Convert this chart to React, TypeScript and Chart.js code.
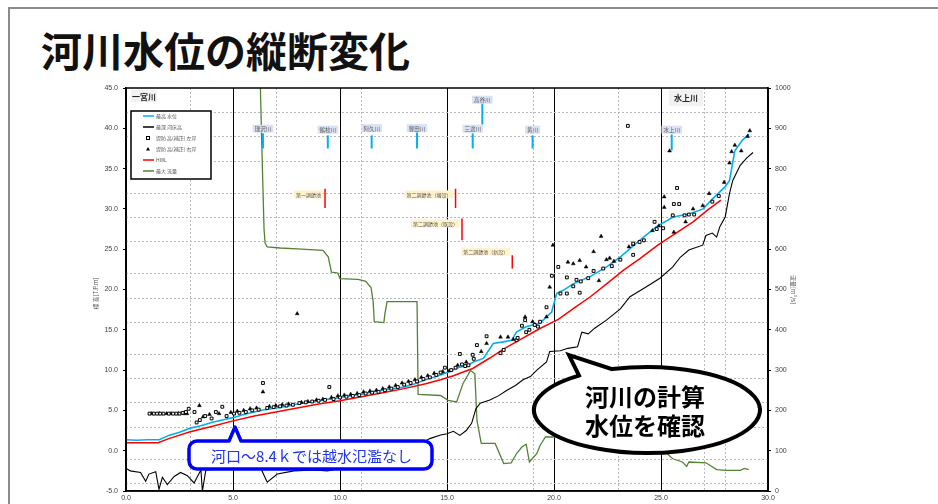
import React, { useEffect, useRef } from 'react';
import { Chart, registerables } from 'chart.js';
Chart.register(...registerables);

// ---------------- data ----------------
const xTicks = [0, 5, 10, 15, 20, 25, 30];
const leftTicks = [-5, 0, 5, 10, 15, 20, 25, 30, 35, 40, 45];
const rightTicks = [0, 100, 200, 300, 400, 500, 600, 700, 800, 900, 1000];
const dottedX = [3, 7, 11, 19, 23, 27, 28];
const dottedY = [42, 39, 36, 32, 29, 26, 22, 19, 16, 12, 9, 6, 3, -1, -4];

const maxWaterLevel: number[][] = [
  [0, 1.35], [0.5, 1.3], [1.0, 1.35], [1.55, 1.35], [2.0, 1.9], [2.5, 2.3], [3.0, 2.8], [3.5, 3.1], [4.0, 3.5],
  [4.5, 3.8], [5.0, 4.1], [5.5, 4.5], [6.0, 4.8], [6.5, 5.1], [7.0, 5.3], [7.5, 5.5], [8.0, 5.8], [8.5, 6.0],
  [9.0, 6.2], [9.5, 6.4], [10.0, 6.6], [10.5, 6.8], [11.0, 7.0], [11.5, 7.3], [12.0, 7.5], [12.5, 7.7],
  [13.0, 7.9], [13.5, 8.3], [14.0, 8.8], [14.5, 9.2], [15.0, 9.7], [15.5, 10.3], [16.0, 10.6], [16.23, 11.0],
  [16.7, 11.45], [17.16, 13.3], [17.63, 13.5], [18.02, 13.7], [18.25, 14.75], [18.72, 15.4], [19.34, 15.8],
  [19.65, 16.6], [19.89, 17.2], [20.12, 19.5], [20.43, 19.9], [20.9, 20.7], [21.68, 21.6], [22.46, 22.8],
  [23.08, 24.0], [24.0, 26.1], [24.79, 27.8], [25.57, 29.0], [26.34, 29.4], [26.97, 30.0], [27.43, 31.3],
  [27.98, 32.7], [28.2, 33.5], [28.45, 37.2], [28.8, 38.5], [29.1, 39.3],
];

const deepestBed: number[][] = [
  [0, -2.2], [0.2, -2.5], [0.68, -2.7], [0.92, -3.8], [1.07, -2.9], [1.39, -2.6], [1.54, -4.8], [1.7, -3.3],
  [1.93, -4.2], [2.25, -3.2], [2.55, -2.7], [2.87, -3.1], [3.18, -4.0], [3.5, -2.4], [3.57, -5.0], [3.73, -2.4],
  [4.43, -2.3], [5.05, -2.1], [5.67, -2.3], [6.3, -2.2], [6.6, -3.9], [7.07, -2.9], [7.85, -2.5], [8.78, -2.4],
  [9.41, -2.5], [10.0, -2.2], [10.95, -2.1], [11.57, -2.3], [12.2, -2.0], [13.0, -1.8], [13.6, -1.9],
  [13.9, 1.1], [14.2, 1.5], [14.7, 1.95], [15.0, 2.1], [15.3, 2.4], [15.6, 1.9], [15.9, 2.5], [16.15, 3.4],
  [16.35, 5.2], [16.55, 5.9], [17.0, 6.3], [17.4, 6.8], [17.8, 7.5], [18.2, 8.1], [18.55, 8.8], [18.9, 9.2],
  [19.2, 10.0], [19.65, 11.0], [19.8, 12.3], [20.3, 12.4], [20.65, 12.7], [21.1, 12.9], [21.3, 14.7],
  [21.6, 14.5], [21.9, 15.2], [22.45, 16.2], [23.1, 17.6], [23.55, 19.1], [23.8, 19.5], [24.3, 20.3],
  [24.95, 21.4], [25.55, 22.8], [25.9, 24.0], [26.3, 24.9], [26.95, 25.5], [27.1, 26.7], [27.4, 27.0],
  [27.6, 26.5], [27.75, 27.8], [28.0, 29.0], [28.2, 31.9], [28.35, 33.5], [28.7, 35.4], [29.0, 36.3], [29.3, 37.0],
];

const leftBank: number[][] = [
  [1.1, 4.6], [1.3, 4.6], [1.45, 4.6], [1.6, 4.6], [1.75, 4.6], [2.0, 4.6], [2.2, 4.6], [2.35, 4.6], [2.5, 4.6],
  [2.65, 4.7], [2.8, 4.8], [2.93, 5.2], [3.2, 4.8], [3.3, 3.5], [3.45, 3.8], [3.7, 4.3], [4.0, 4.0], [4.2, 4.8],
  [4.5, 5.45], [4.7, 4.3], [5.05, 4.6], [5.3, 4.7], [5.6, 4.8], [5.9, 5.0], [6.2, 5.1], [6.4, 8.4], [6.6, 5.3],
  [6.9, 5.4], [7.2, 5.5], [7.5, 5.6], [7.8, 5.7], [8.1, 5.9], [8.4, 6.0], [8.7, 6.1], [9.0, 6.2], [9.3, 6.3],
  [9.5, 7.9], [9.7, 6.4], [10.0, 6.6], [10.3, 6.7], [10.6, 6.8], [10.9, 6.9], [11.2, 7.1], [11.5, 7.2],
  [11.8, 7.3], [12.1, 7.5], [12.4, 7.7], [12.7, 7.9], [13.0, 8.2], [13.3, 8.4], [13.6, 8.6], [13.9, 8.9],
  [14.2, 9.1], [14.5, 9.4], [14.7, 9.7], [14.9, 10.3], [15.2, 10.0], [15.4, 10.3], [15.6, 12.0], [15.7, 10.7],
  [15.85, 10.5], [16.0, 10.6], [16.2, 11.9], [16.25, 11.4], [16.4, 13.1], [16.85, 14.2], [17.5, 12.1],
  [17.65, 12.5], [18.25, 13.7], [18.3, 14.0], [18.5, 15.5], [18.65, 16.2], [18.7, 14.7], [18.85, 15.0],
  [19.1, 15.6], [19.25, 15.4], [19.35, 16.0], [19.65, 17.8], [19.9, 21.7], [20.2, 22.8], [20.3, 19.5],
  [20.6, 21.5], [20.6, 19.5], [20.9, 20.4], [21.05, 21.2], [21.25, 21.0], [21.2, 19.6], [21.6, 21.4],
  [21.85, 22.3], [22.3, 22.6], [22.7, 22.9], [23.1, 23.7], [23.7, 24.3], [23.7, 25.7], [24.0, 25.9],
  [24.2, 26.1], [24.7, 28.4], [24.8, 27.5], [25.1, 27.6], [25.55, 29.2], [25.6, 30.6], [25.85, 30.6],
  [26.1, 29.2], [26.3, 29.3], [26.55, 29.3], [25.75, 32.6], [27.4, 30.9], [27.7, 31.6], [23.45, 40.3],
];

const rightBank: number[][] = [
  [1.2, 4.6], [1.55, 4.6], [1.9, 4.6], [2.1, 4.6], [2.45, 4.6], [2.7, 4.6], [2.85, 4.6], [3.43, 5.6], [3.6, 4.2],
  [3.9, 4.5], [4.35, 4.6], [4.9, 4.75], [5.2, 4.9], [5.5, 5.0], [5.8, 5.2], [6.1, 5.3], [6.4, 7.3], [6.7, 5.5],
  [7.0, 5.6], [7.3, 5.7], [7.6, 5.8], [8.0, 17.0], [8.2, 6.0], [8.5, 6.1], [8.9, 6.3], [9.2, 6.4], [9.6, 6.6],
  [9.9, 6.8], [10.2, 6.9], [10.5, 7.0], [10.8, 7.1], [11.1, 7.3], [11.4, 7.4], [11.7, 7.5], [12.0, 7.7],
  [12.3, 7.9], [12.6, 8.1], [12.9, 8.4], [13.2, 8.6], [13.5, 8.8], [13.8, 9.1], [14.1, 9.3], [14.4, 9.6],
  [14.8, 9.8], [15.1, 9.9], [15.5, 10.6], [15.9, 11.0], [16.6, 12.3], [16.85, 13.3], [17.5, 14.1], [17.85, 14.1],
  [18.1, 13.8], [18.65, 16.6], [19.0, 16.0], [19.65, 16.6], [19.8, 20.3], [19.95, 25.5], [20.65, 23.4],
  [20.9, 23.2], [21.2, 23.6], [21.5, 22.8], [21.85, 24.7], [22.1, 21.1], [22.2, 26.6], [22.45, 23.7],
  [22.6, 23.9], [22.8, 23.5], [23.5, 25.3], [23.7, 25.6], [24.6, 27.3], [24.9, 27.9], [25.15, 31.5],
  [25.15, 30.2], [25.4, 37.2], [25.6, 27.1], [26.15, 28.4], [26.5, 30.0], [26.95, 30.4], [27.25, 31.9],
  [27.95, 33.3], [28.2, 35.7], [28.3, 37.1], [28.45, 37.9], [28.75, 37.2], [29.05, 39.0], [29.15, 39.7],
];

const hwl: number[][] = [
  [0, 1.0], [1.5, 1.0], [2.0, 1.5], [3.0, 2.35], [4.0, 3.0], [5.0, 3.7], [6.0, 4.3], [7.0, 4.8], [8.0, 5.3],
  [9.0, 5.8], [10.0, 6.2], [11.0, 6.7], [12.0, 7.2], [13.0, 7.7], [14.0, 8.3], [14.7, 8.8], [15.3, 9.3],
  [15.7, 9.7], [16.2, 10.2], [17.0, 11.5], [17.7, 12.7], [18.5, 13.9], [19.3, 15.1], [20.2, 16.3], [21.0, 17.8],
  [21.7, 19.1], [22.5, 20.8], [23.25, 22.4], [24.0, 23.8], [24.85, 25.5], [25.7, 27.0], [26.5, 28.4],
  [27.2, 29.9], [27.8, 31.1],
];

const maxFlow: number[][] = [
  [6.28, 1000], [6.35, 850], [6.45, 650], [6.5, 615], [6.6, 606], [7.2, 603], [8.0, 601], [9.2, 597],
  [9.45, 581], [9.6, 543], [9.9, 541], [10.0, 527], [10.85, 525], [11.2, 520], [11.45, 505], [11.55, 470],
  [11.6, 420], [12.05, 418], [12.1, 440], [12.2, 470], [13.6, 470], [13.65, 240], [14.7, 237], [15.05, 225],
  [15.45, 221], [15.75, 267], [16.1, 299], [16.3, 291], [16.4, 175], [16.6, 118], [17.25, 118], [17.65, 68],
  [18.0, 70], [18.25, 93], [18.5, 109], [18.7, 116], [18.85, 72], [19.2, 93], [19.35, 113], [19.6, 134],
  [20.1, 134], [21.0, 132], [22.0, 128], [23.0, 120], [24.0, 110], [25.1, 101], [25.55, 80], [26.0, 72],
  [26.2, 61], [26.3, 72], [27.1, 70], [27.6, 53], [28.05, 51], [28.7, 51], [28.9, 56], [29.1, 53],
];

// tributary annotations (data coords)
const tribNames = ['瑞沢川', '鶴枝川', '阿久川', '豊田川', '三途川', '高谷川', '黄川', '水上川'];
const tribX = [6.4, 9.43, 11.48, 13.6, 16.2, 16.65, 19.0, 25.5];
const tribTop = [39.37, 39.12, 39.12, 39.5, 39.37, 43.09, 39.12, 39.24];
const tribBottom = [37.5, 37.5, 37.5, 37.5, 37.5, 40.48, 37.5, 37.26];
const tribLabelY = [39.95, 39.83, 40.02, 40.02, 39.95, 43.54, 39.83, 39.83];

// regulating pond annotations
const pondNames = ['第一調節池', '第二調節池（増設）', '第二調節池（既設）', '第二調節池（新設）'];
const pondX = [9.3, 15.4, 15.7, 18.05];
const pondTop = [32.5, 32.5, 28.8, 24.25];
const pondBottom = [30.1, 30.1, 26.1, 22.6];
const pondLabelY = [31.8, 31.8, 28.2, 24.7];

const seriesNames = ['最高 水位', '最深 河床高', '堤防 高(補正) 左岸', '堤防 高(補正) 右岸', 'HWL', '最大 流量'];
const sectionNames = ['一宮川', '水上川'];

const toXY = (a: number[][]) => a.map(([x, y]) => ({ x, y }));

const JP = "'Noto Sans CJK JP', 'Noto Sans', sans-serif";
const LAT = "'Liberation Sans', 'DejaVu Sans', sans-serif";

function line(ctx: CanvasRenderingContext2D, x1: number, y1: number, x2: number, y2: number) {
  ctx.beginPath();
  ctx.moveTo(x1, y1);
  ctx.lineTo(x2, y2);
  ctx.stroke();
}

const annotPlugin = {
  id: 'annot',
  beforeDatasetsDraw(chart: any) {
    const { ctx, chartArea: a, scales } = chart;
    const sx = scales.x, sy = scales.y;
    ctx.save();
    ctx.strokeStyle = '#b8b8b8';
    ctx.lineWidth = 1;
    ctx.setLineDash([2, 2]);
    for (const v of dottedX) {
      const px = Math.round(sx.getPixelForValue(v)) + 0.5;
      line(ctx, px, a.top, px, a.bottom);
    }
    for (const v of dottedY) {
      const py = Math.round(sy.getPixelForValue(v)) + 0.5;
      line(ctx, a.left, py, a.right, py);
    }
    ctx.restore();
  },
  afterDatasetsDraw(chart: any) {
    const { ctx, chartArea: a, scales } = chart;
    const sx = scales.x, sy = scales.y;
    ctx.save();
    // frame
    ctx.strokeStyle = '#000';
    ctx.lineWidth = 1.5;
    ctx.strokeRect(a.left, a.top, a.right - a.left, a.bottom - a.top);

    // tributaries
    ctx.textAlign = 'center';
    ctx.textBaseline = 'middle';
    ctx.font = `5.5px ${JP}`;
    tribNames.forEach((name, i) => {
      const px = sx.getPixelForValue(tribX[i]);
      ctx.strokeStyle = '#00b0f0';
      ctx.lineWidth = 2;
      line(ctx, px, sy.getPixelForValue(tribTop[i]), px, sy.getPixelForValue(tribBottom[i]));
      const ly = sy.getPixelForValue(tribLabelY[i]);
      const tw = ctx.measureText(name).width + 4;
      ctx.fillStyle = '#d9e1f2';
      ctx.fillRect(px - tw / 2, ly - 4, tw, 8);
      ctx.fillStyle = '#595959';
      ctx.fillText(name, px, ly + 0.5);
    });

    // ponds
    ctx.font = `5px ${JP}`;
    pondNames.forEach((name, i) => {
      const px = sx.getPixelForValue(pondX[i]);
      ctx.strokeStyle = '#ff0000';
      ctx.lineWidth = 1.5;
      line(ctx, px, sy.getPixelForValue(pondTop[i]), px, sy.getPixelForValue(pondBottom[i]));
      const ly = sy.getPixelForValue(pondLabelY[i]);
      const tw = ctx.measureText(name).width + 4;
      const right = px - 2;
      ctx.fillStyle = '#fff2cc';
      ctx.fillRect(right - tw, ly - 4, tw, 8);
      ctx.fillStyle = '#595959';
      ctx.fillText(name, right - tw / 2, ly + 0.5);
    });

    // section labels
    ctx.font = `bold 8px ${JP}`;
    ctx.fillStyle = '#f2f2f2';
    ctx.fillRect(a.left + 5, a.top + 2, 26, 12);
    ctx.fillStyle = '#262626';
    ctx.fillText(sectionNames[0], a.left + 18, a.top + 8.5);
    const sx2 = sx.getPixelForValue(25) + 8;
    ctx.fillStyle = '#f2f2f2';
    ctx.fillRect(sx2, a.top + 2, 34, 16);
    ctx.fillStyle = '#262626';
    ctx.fillText(sectionNames[1], sx2 + 17, a.top + 10);

    // legend
    const lx = a.left + 5, ly0 = a.top + 23;
    ctx.fillStyle = '#fff';
    ctx.fillRect(lx, ly0, 80, 68);
    ctx.strokeStyle = '#000';
    ctx.lineWidth = 1.5;
    ctx.strokeRect(lx, ly0, 80, 68);
    ctx.font = `5px ${JP}`;
    ctx.textAlign = 'left';
    chart.data.datasets.forEach((ds: any, i: number) => {
      const ry = ly0 + 5 + i * 11;
      if (ds.showLine) {
        ctx.strokeStyle = ds.borderColor;
        ctx.lineWidth = 1.5;
        line(ctx, lx + 12, ry, lx + 23, ry);
      } else if (ds.pointStyle === 'rect') {
        ctx.strokeStyle = '#000';
        ctx.lineWidth = 1;
        ctx.fillStyle = '#fff';
        ctx.fillRect(lx + 15.5, ry - 1.5, 3, 3);
        ctx.strokeRect(lx + 15.5, ry - 1.5, 3, 3);
      } else {
        ctx.fillStyle = '#000';
        ctx.beginPath();
        ctx.moveTo(lx + 17, ry - 2);
        ctx.lineTo(lx + 19, ry + 1.5);
        ctx.lineTo(lx + 15, ry + 1.5);
        ctx.closePath();
        ctx.fill();
      }
      ctx.fillStyle = '#595959';
      ctx.fillText(ds.label, lx + 25, ry);
    });

    // axis titles
    ctx.font = `6px ${JP}`;
    ctx.fillStyle = '#595959';
    ctx.textAlign = 'center';
    ctx.save();
    ctx.translate(96, (a.top + a.bottom) / 2 + 4);
    ctx.rotate(-Math.PI / 2);
    ctx.fillText('標 高[T.P.m]', 0, 0);
    ctx.restore();
    ctx.save();
    ctx.translate(a.right + 25, (a.top + a.bottom) / 2);
    ctx.rotate(Math.PI / 2);
    ctx.fillText('流量[m³/s]', 0, 0);
    ctx.restore();
    ctx.restore();
  },
  afterDraw(chart: any) {
    const { ctx } = chart;
    ctx.save();
    // blue callout
    const bx = 189, by = 441, bw = 243, bh = 28, r = 8;
    ctx.beginPath();
    ctx.moveTo(bx + r, by);
    ctx.lineTo(229, by);
    ctx.lineTo(235, 427);
    ctx.lineTo(241, by);
    ctx.lineTo(bx + bw - r, by);
    ctx.arcTo(bx + bw, by, bx + bw, by + bh, r);
    ctx.arcTo(bx + bw, by + bh, bx, by + bh, r);
    ctx.arcTo(bx, by + bh, bx, by, r);
    ctx.arcTo(bx, by, bx + bw, by, r);
    ctx.closePath();
    ctx.fillStyle = '#fff';
    ctx.fill();
    ctx.strokeStyle = '#0000ff';
    ctx.lineWidth = 3.5;
    ctx.lineJoin = 'round';
    ctx.stroke();
    ctx.fillStyle = '#1f33f0';
    ctx.font = `15px ${JP}`;
    ctx.textAlign = 'center';
    ctx.textBaseline = 'middle';
    ctx.fillText('河口～8.4ｋでは越水氾濫なし', bx + bw / 2 + 1, by + bh / 2 + 1);

    // speech bubble ellipse
    const cx = 647, cy = 410, rx = 113, ry = 43;
    const t1 = (-108 * Math.PI) / 180, t2 = (233 * Math.PI) / 180;
    ctx.beginPath();
    ctx.moveTo(cx + rx * Math.cos(t2), cy + ry * Math.sin(t2));
    ctx.lineTo(569, 355);
    ctx.lineTo(cx + rx * Math.cos(t1), cy + ry * Math.sin(t1));
    ctx.ellipse(cx, cy, rx, ry, 0, t1, t2, false);
    ctx.closePath();
    ctx.fillStyle = '#fff';
    ctx.fill();
    ctx.strokeStyle = '#000';
    ctx.lineWidth = 4;
    ctx.lineJoin = 'miter';
    ctx.stroke();
    ctx.fillStyle = '#000';
    ctx.font = `bold 24px ${JP}`;
    ctx.fillText('河川の計算', 645, 397);
    ctx.fillText('水位を確認', 645, 426);
    ctx.restore();
  },
};

export default function App() {
  const ref = useRef<HTMLCanvasElement>(null);
  useEffect(() => {
    if (!ref.current) return;
    const tickFont = { size: 7, family: LAT };
    const chart = new Chart(ref.current, {
      type: 'scatter',
      data: {
        datasets: [
          { label: seriesNames[0], data: toXY(maxWaterLevel), showLine: true, borderColor: '#00b0f0', borderWidth: 1.6, pointRadius: 0, yAxisID: 'y', order: 1 },
          { label: seriesNames[1], data: toXY(deepestBed), showLine: true, borderColor: '#000000', borderWidth: 1.1, pointRadius: 0, yAxisID: 'y', order: 3 },
          { label: seriesNames[2], data: toXY(leftBank), showLine: false, pointStyle: 'rect', pointRadius: 2, borderColor: '#000', borderWidth: 1, backgroundColor: '#fff', yAxisID: 'y', order: 0 },
          { label: seriesNames[3], data: toXY(rightBank), showLine: false, pointStyle: 'triangle', pointRadius: 2.2, borderColor: '#000', borderWidth: 0.5, backgroundColor: '#000', yAxisID: 'y', order: 0 },
          { label: seriesNames[4], data: toXY(hwl), showLine: true, borderColor: '#ff0000', borderWidth: 1.5, pointRadius: 0, yAxisID: 'y', order: 2 },
          { label: seriesNames[5], data: toXY(maxFlow), showLine: true, borderColor: '#548235', borderWidth: 1.3, pointRadius: 0, yAxisID: 'y2', order: 4 },
        ] as any,
      },
      options: {
        animation: false,
        responsive: false,
        layout: { padding: { top: 88, left: 0, right: 0, bottom: 0 } },
        plugins: { legend: { display: false }, tooltip: { enabled: false } },
        scales: {
          x: {
            type: 'linear', position: 'bottom', min: 0, max: 30,
            afterBuildTicks: (s: any) => { s.ticks = xTicks.map((v) => ({ value: v })); },
            afterFit: (s: any) => { s.height = 13; },
            ticks: { autoSkip: false, maxRotation: 0, padding: 3, font: tickFont, color: '#404040', callback: (v: any) => Number(v).toFixed(1) },
            grid: { color: '#000', lineWidth: 1, drawTicks: false },
            border: { color: '#000', width: 1.5 },
          },
          y: {
            type: 'linear', position: 'left', min: -5, max: 45,
            afterBuildTicks: (s: any) => { s.ticks = leftTicks.map((v) => ({ value: v })); },
            afterFit: (s: any) => { s.width = 126; },
            ticks: { autoSkip: false, padding: 5, font: tickFont, color: '#404040', callback: (v: any) => Number(v).toFixed(1) },
            grid: { drawOnChartArea: false, drawTicks: true, tickLength: 3, tickColor: '#000' },
            border: { color: '#000', width: 1.5 },
          },
          y2: {
            type: 'linear', position: 'right', min: 0, max: 1000,
            afterBuildTicks: (s: any) => { s.ticks = rightTicks.map((v) => ({ value: v })); },
            afterFit: (s: any) => { s.width = 170; },
            ticks: { autoSkip: false, padding: 4, font: tickFont, color: '#404040', callback: (v: any) => String(v) },
            grid: { drawOnChartArea: false, drawTicks: true, tickLength: 3, tickColor: '#000' },
            border: { color: '#000', width: 1.5 },
          },
        },
      } as any,
      plugins: [annotPlugin as any],
    });
    return () => chart.destroy();
  }, []);

  return (
    <div style={{ position: 'absolute', left: 0, top: 0, width: 938, height: 504, background: '#fff', overflow: 'hidden' }}>
      <div style={{ position: 'absolute', left: 8, top: 7, width: 930, height: 497, borderTop: '2px solid #8c8c8c', borderLeft: '2px solid #8c8c8c', boxSizing: 'border-box' }} />
      <div style={{ position: 'absolute', left: 41, top: 29, fontFamily: JP, fontWeight: 700, fontSize: 41, lineHeight: '41px', color: '#111', whiteSpace: 'nowrap' }}>
        河川水位の縦断変化
      </div>
      <canvas ref={ref} width={938} height={504} style={{ position: 'absolute', left: 0, top: 0, width: 938, height: 504 }} />
    </div>
  );
}
